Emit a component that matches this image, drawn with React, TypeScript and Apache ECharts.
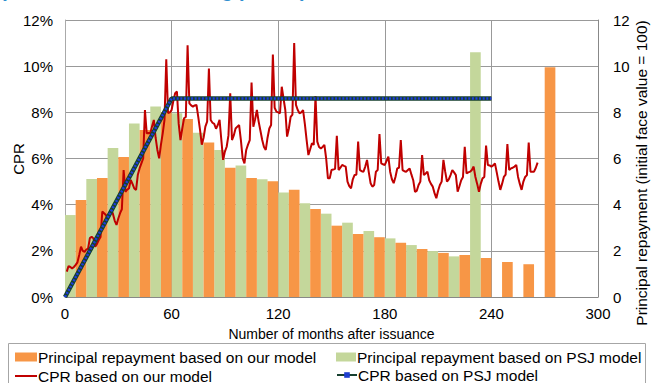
import React, { useEffect, useRef } from "react";
import * as echarts from "echarts";

// ---- data ----
const xTicks = [0, 60, 120, 180, 240, 300];
const yTicks = [0, 2, 4, 6, 8, 10, 12];

// Principal repayment per year (initial face value = 100)
const repaymentPSJ = [3.55, 5.11, 6.46, 7.52, 8.25, 7.96, 7.12, 6.37, 5.7, 5.1, 4.53, 4.06, 3.61, 3.22, 2.86, 2.54, 2.25, 1.99, 1.76, 10.6];
const repaymentOurs = [4.2, 5.16, 6.07, 7.24, 8.0, 7.71, 6.69, 5.6, 5.16, 5.01, 4.65, 3.81, 3.09, 2.73, 2.59, 2.35, 2.08, 1.91, 1.82, 1.69, 1.52, 1.42, 9.95];

// CPR based on our model, month 1..266 (%)
const cprOurs = [
  1.1, 1.34, 1.3, 1.24, 1.3, 1.39, 1.5, 1.82, 2.18, 2.0, 1.96, 2.05,
  2.1, 2.55, 2.61, 2.54, 2.18, 2.3, 2.47, 2.6, 3.7, 3.63, 3.55, 3.4,
  3.55, 3.78, 3.6, 3.3, 3.12, 3.4, 3.63, 3.8, 5.5, 4.56, 4.65, 4.7,
  5.07, 4.9, 4.7, 4.64, 5.3, 5.58, 5.79, 6.0, 8.1, 7.09, 7.1, 7.09,
  7.4, 7.67, 6.9, 6.37, 6.01, 6.6, 7.09, 7.67, 10.3, 7.97, 8.0, 8.1,
  8.5, 8.83, 8.9, 7.5, 6.8, 7.3, 7.74, 7.8, 10.9, 8.39, 8.3, 8.25,
  8.3, 8.32, 7.8, 7.24, 6.6, 6.9, 7.38, 7.6, 9.9, 7.67, 7.55, 7.5,
  7.29, 7.45, 7.67, 6.8, 5.94, 6.3, 6.51, 7.0, 8.83, 6.8, 7.0, 7.3,
  7.38, 7.45, 6.8, 6.0, 5.79, 6.37, 6.6, 6.8, 9.29, 7.38, 7.7, 8.1,
  7.6, 7.2, 6.8, 6.5, 6.37, 6.9, 7.3, 7.45, 10.5, 8.2, 8.03, 8.0,
  7.96, 9.11, 8.6, 8.1, 6.95, 7.3, 7.8, 7.9, 11.0, 8.32, 8.1, 7.96,
  8.0, 8.1, 7.5, 6.8, 6.15, 6.4, 6.66, 6.59, 8.71, 6.73, 6.5, 6.44,
  6.5, 6.59, 6.0, 5.14, 5.14, 5.5, 5.52, 5.55, 6.98, 5.5, 5.6, 5.72,
  5.68, 5.65, 5.0, 4.8, 4.71, 5.1, 5.29, 5.3, 6.73, 5.5, 5.45, 5.43,
  5.65, 5.94, 5.4, 4.93, 4.78, 4.85, 5.43, 5.5, 7.06, 5.79, 5.75, 5.72,
  5.9, 6.08, 5.43, 5.1, 4.93, 5.2, 5.57, 5.6, 6.8, 5.5, 5.45, 5.43,
  5.5, 5.57, 5.3, 5.06, 4.56, 4.6, 4.85, 5.0, 6.15, 5.28, 5.35, 5.43,
  5.06, 4.9, 4.78, 4.5, 4.28, 4.6, 4.85, 5.0, 5.94, 5.43, 5.0, 5.1,
  5.28, 5.5, 5.4, 5.28, 4.56, 4.8, 5.06, 5.2, 6.51, 5.35, 5.4, 5.43,
  5.5, 5.65, 5.2, 4.9, 4.56, 4.9, 5.14, 5.2, 6.56, 5.72, 5.7, 5.65,
  5.7, 5.79, 5.4, 5.0, 4.64, 4.9, 5.2, 5.3, 6.63, 5.5, 5.57, 5.6,
  5.65, 5.72, 5.2, 4.9, 4.64, 5.0, 5.2, 5.28, 6.69, 5.43, 5.43, 5.43,
  5.6, 5.82,
];

// CPR based on PSJ model (%): key months and values
const psjMonths = [0, 60, 240];
const psjCpr = [0, 8.6, 8.6];

const NAME_OURS_BAR = "Principal repayment based on our model";
const NAME_PSJ_BAR = "Principal repayment based on PSJ model";
const NAME_OURS_CPR = "CPR based on our model";
const NAME_PSJ_CPR = "CPR based on PSJ model";

const ORANGE = "#F79646";
const GREEN = "#C4D79B";
const RED = "#C00000";
const FONT = "Liberation Sans, Arial, sans-serif";
const GRID_COLOR = "#999999";

function barRender(color: string) {
  return (_params: any, api: any) => {
    const p0 = api.coord([api.value(0), api.value(2)]);
    const p1 = api.coord([api.value(1), 0]);
    return {
      type: "rect",
      shape: { x: p0[0], y: p0[1], width: p1[0] - p0[0], height: p1[1] - p0[1] },
      style: { fill: color },
    };
  };
}

function legendItem(name: string, left: number, top: number, w: number, h: number, icon?: string) {
  return {
    orient: "horizontal",
    left,
    top,
    itemWidth: w,
    itemHeight: h,
    padding: 0,
    textStyle: { fontSize: 15.5, color: "#000", fontFamily: FONT, padding: [0, 0, 0, -4] },
    data: [icon ? { name, icon } : { name }],
  };
}

export default function App() {
  const ref = useRef<HTMLDivElement>(null);
  useEffect(() => {
    const chart = echarts.init(ref.current as HTMLDivElement, null, { renderer: "svg" });
    const option: any = {
      animation: false,
      backgroundColor: "#ffffff",
      textStyle: { fontFamily: FONT },
      grid: { left: 65, right: 53, top: 20, bottom: 86, outerBoundsMode: "none", containLabel: false },
      graphic: [
        {
          type: "text",
          x: 0,
          y: -20,
          style: {
            text: "(Based on the remaining period)",
            font: "bold 20px " + FONT,
            fill: "#2E8FD0",
          },
        },
        {
          type: "rect",
          shape: { x: 8.5, y: 343.5, width: 637, height: 60 },
          style: { fill: "none", stroke: "#A6A6A6", lineWidth: 1 },
          z: -1,
        },
        {
          type: "text",
          x: 18,
          y: 159,
          rotation: Math.PI / 2,
          style: {
            text: "CPR",
            font: "15px " + FONT,
            fill: "#000",
            align: "center",
            verticalAlign: "middle",
          },
        },
        {
          type: "text",
          x: 641,
          y: 173,
          rotation: Math.PI / 2,
          style: {
            text: "Principal repayment (initial face value = 100)",
            font: "15.5px " + FONT,
            fill: "#000",
            align: "center",
            verticalAlign: "middle",
          },
        },
      ],
      legend: [
        legendItem(NAME_OURS_BAR, 15, 349, 22, 9, "rect"),
        legendItem(NAME_PSJ_BAR, 336, 349, 20, 9, "rect"),
        legendItem(NAME_OURS_CPR, 15, 368, 22, 2, "rect"),
        legendItem(NAME_PSJ_CPR, 336, 367, 20, 7),
      ],
      xAxis: {
        type: "value",
        min: xTicks[0],
        max: xTicks[xTicks.length - 1],
        interval: xTicks[1] - xTicks[0],
        name: "Number of months after issuance",
        nameLocation: "middle",
        nameGap: 30,
        nameTextStyle: { fontSize: 14, color: "#000", fontFamily: FONT },
        axisLine: { show: true, lineStyle: { color: "#888", width: 1 } },
        axisTick: { show: false },
        axisLabel: { fontSize: 15, color: "#000", margin: 9, fontFamily: FONT },
        splitLine: { show: true, lineStyle: { color: GRID_COLOR, width: 1 } },
      },
      yAxis: [
        {
          type: "value",
          min: yTicks[0],
          max: yTicks[yTicks.length - 1],
          interval: yTicks[1] - yTicks[0],
          axisLine: { show: true, lineStyle: { color: "#AAA", width: 1 } },
          axisTick: { show: false },
          axisLabel: { formatter: "{value}%", fontSize: 15, color: "#000", margin: 12, fontFamily: FONT },
          splitLine: { show: true, lineStyle: { color: GRID_COLOR, width: 1 } },
        },
        {
          type: "value",
          position: "right",
          min: yTicks[0],
          max: yTicks[yTicks.length - 1],
          interval: yTicks[1] - yTicks[0],
          axisLine: { show: true, lineStyle: { color: "#888", width: 1 } },
          axisTick: { show: false },
          axisLabel: { fontSize: 15, color: "#000", margin: 15, fontFamily: FONT },
          splitLine: { show: false },
        },
      ],
      series: [
        {
          type: "custom",
          name: NAME_PSJ_BAR,
          yAxisIndex: 1,
          itemStyle: { color: GREEN },
          encode: { x: [0, 1], y: 2 },
          data: repaymentPSJ.map((v, i) => [i * 12, i * 12 + 6, v]),
          renderItem: barRender(GREEN),
          z: 1,
        },
        {
          type: "custom",
          name: NAME_OURS_BAR,
          yAxisIndex: 1,
          itemStyle: { color: ORANGE },
          encode: { x: [0, 1], y: 2 },
          data: repaymentOurs.map((v, i) => [i * 12 + 6, i * 12 + 12, v]),
          renderItem: barRender(ORANGE),
          z: 1,
        },
        {
          type: "line",
          name: NAME_PSJ_CPR,
          yAxisIndex: 0,
          data: psjMonths.map((m, i) => [m, psjCpr[i]]),
          symbol: "rect",
          symbolSize: 4,
          showSymbol: false,
          itemStyle: { color: "#1F3FD0" },
          lineStyle: { color: "#17402F", width: 4.5 },
          z: 3,
        },
        {
          type: "line",
          name: "psj-dots",
          yAxisIndex: 0,
          data: psjMonths.map((m, i) => [m, psjCpr[i]]),
          symbol: "none",
          lineStyle: { color: "#1E3CE0", width: 2.5, type: [2, 1.6] },
          z: 4,
          silent: true,
        },
        {
          type: "line",
          name: NAME_OURS_CPR,
          yAxisIndex: 0,
          data: cprOurs.map((v, i) => [i + 1, v]),
          symbol: "none",
          itemStyle: { color: RED },
          lineStyle: { color: RED, width: 2 },
          z: 2,
        },
      ],
    };
    chart.setOption(option);
    return () => chart.dispose();
  }, []);
  return <div ref={ref} style={{ position: "fixed", left: 0, top: 0, width: 651, height: 383 }} />;
}
